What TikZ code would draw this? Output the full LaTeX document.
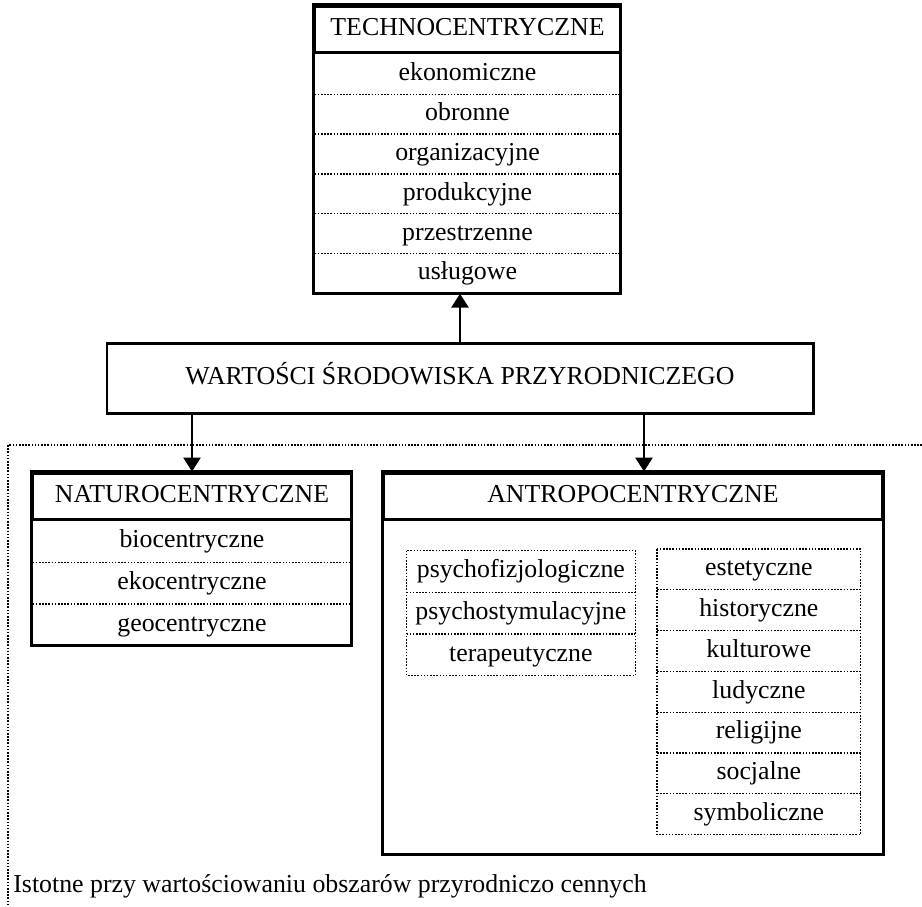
\documentclass[tikz,border=0pt]{standalone}
\usepackage{fontspec}
\setmainfont{Liberation Serif}
\usetikzlibrary{arrows.meta,positioning}
\tikzset{
  txt/.style={font=\fontsize{14.7pt}{17pt}\selectfont, inner sep=0pt, align=center,
              text height=10.3pt, text depth=3.2pt},
  head/.style={txt, draw, line width=1.7pt, minimum height=0.93cm},
  techitem/.style={txt, minimum width=6.1cm, minimum height=0.784cm},
  natitem/.style={txt, minimum width=6.36cm, minimum height=0.82cm},
  psyitem/.style={txt, minimum width=4.56cm, minimum height=0.82cm},
  socitem/.style={txt, minimum width=4.06cm, minimum height=0.802cm},
  frame/.style={line width=1.7pt},
  sep/.style={line width=0.7pt, dash pattern=on 0.9pt off 0.9pt},
  arrow/.style={-{Triangle[length=2.8mm, width=3.4mm]}, line width=1.6pt},
}
\begin{document}
\begin{tikzpicture}
\useasboundingbox (0,0) rectangle (18.44,-18.12);

% technocentryczne
\node[head, minimum width=6.1cm] (t0) at (9.35,-0.59) {TECHNOCENTRYCZNE};
\node[techitem, below=0pt of t0] (t1) {ekonomiczne};
\node[techitem, below=0pt of t1] (t2) {obronne};
\node[techitem, below=0pt of t2] (t3) {organizacyjne};
\node[techitem, below=0pt of t3] (t4) {produkcyjne};
\node[techitem, below=0pt of t4] (t5) {przestrzenne};
\node[techitem, below=0pt of t5] (t6) {usługowe};
\foreach \n in {t1,t2,t3,t4,t5}
  \draw[sep] (\n.south west) -- (\n.south east);
\draw[frame] (t0.north west) rectangle (t6.south east);

% main box
\node[head, minimum width=14.12cm, minimum height=1.4cm] (main) at (9.2,-7.56)
  {WARTOŚCI ŚRODOWISKA PRZYRODNICZEGO};
\draw[arrow] (main.north) -- (main.north |- t6.south);

% dotted area
\draw[sep] (18.44,-8.9) -- (0.16,-8.9) -- (0.16,-18.12);

% naturocentryczne
\node[head, minimum width=6.36cm, minimum height=0.92cm] (n0) at (3.84,-9.92) {NATUROCENTRYCZNE};
\node[natitem, below=0pt of n0] (n1) {biocentryczne};
\node[natitem, below=0pt of n1] (n2) {ekocentryczne};
\node[natitem, below=0pt of n2] (n3) {geocentryczne};
\foreach \n in {n1,n2}
  \draw[sep] (\n.south west) -- (\n.south east);
\draw[frame] (n0.north west) rectangle (n3.south east);
\draw[arrow] (n0.north |- main.south) -- (n0.north);

% antropocentryczne
\node[head, minimum width=9.96cm, minimum height=0.92cm] (a0) at (12.66,-9.92) {ANTROPOCENTRYCZNE};
\coordinate (abot) at (a0.south east |- 0,-17.08);
\draw[frame] (a0.north west) rectangle (abot);
\draw[arrow] ([xshift=0.22cm]a0.north |- main.south) -- ([xshift=0.22cm]a0.north);

\node[psyitem, below=0pt of a0.south west, xshift=0.48cm, yshift=-0.6cm, anchor=north west] (p1) {psychofizjologiczne};
\node[psyitem, below=0pt of p1] (p2) {psychostymulacyjne};
\node[psyitem, below=0pt of p2] (p3) {terapeutyczne};
\foreach \n in {p1,p2}
  \draw[sep] (\n.south west) -- (\n.south east);
\draw[sep] (p1.north west) rectangle (p3.south east);

\node[socitem, anchor=north west] (s1) at (13.14,-10.98) {estetyczne};
\node[socitem, below=0pt of s1] (s2) {historyczne};
\node[socitem, below=0pt of s2] (s3) {kulturowe};
\node[socitem, below=0pt of s3] (s4) {ludyczne};
\node[socitem, below=0pt of s4] (s5) {religijne};
\node[socitem, below=0pt of s5] (s6) {socjalne};
\node[socitem, below=0pt of s6] (s7) {symboliczne};
\foreach \n in {s1,s2,s3,s4,s5,s6}
  \draw[sep] (\n.south west) -- (\n.south east);
\draw[sep] (s1.north west) rectangle (s7.south east);

% note
\node[txt, anchor=west] (note) at (0.26,-17.72) {Istotne przy wartościowaniu obszarów przyrodniczo cennych};
\end{tikzpicture}
\end{document}
